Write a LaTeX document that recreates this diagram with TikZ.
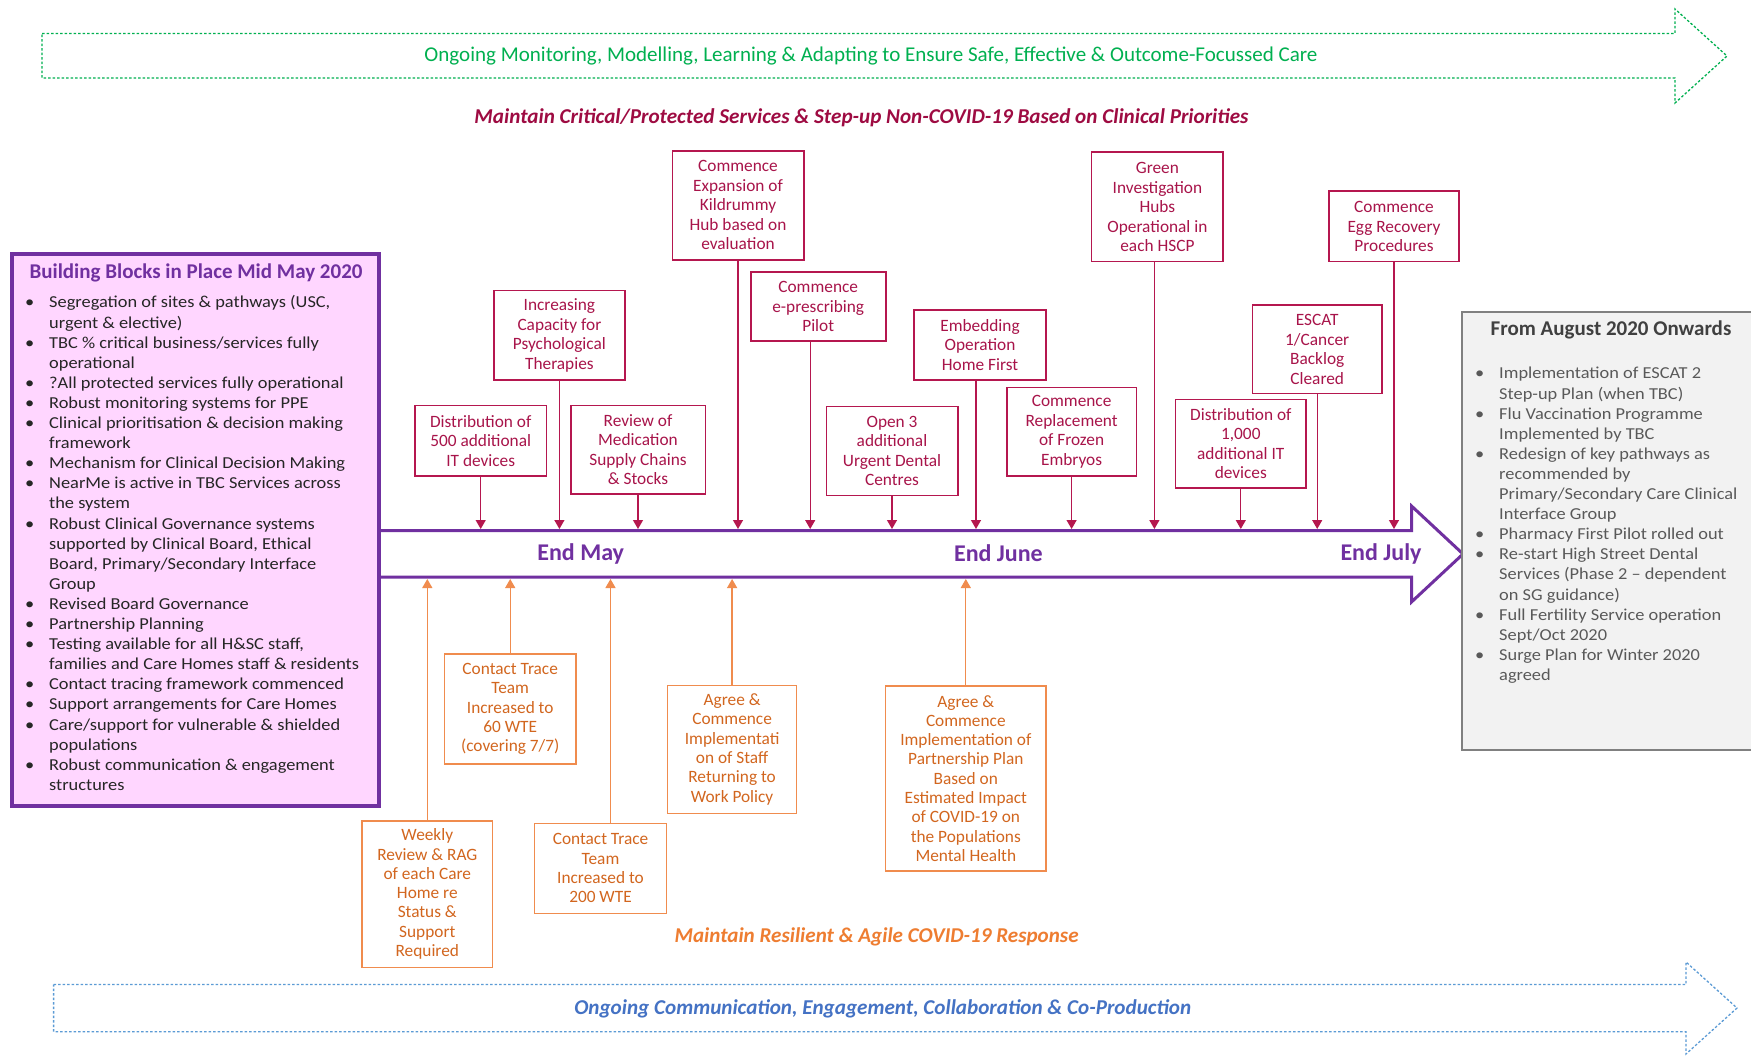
\documentclass[tikz,border=0pt]{standalone}
\usepackage{fontspec}
\setmainfont{Carlito}
\newfontfamily\widefont[FakeStretch=1.1]{Carlito}
\usepackage{graphicx}
\usetikzlibrary{arrows.meta}
\definecolor{crim}{HTML}{B5174F}
\definecolor{crimtext}{HTML}{A8144A}
\definecolor{crimhead}{HTML}{9E0B42}
\definecolor{purp}{HTML}{7030A0}
\definecolor{pinkfill}{HTML}{FFD6FF}
\definecolor{orng}{HTML}{F08C4E}
\definecolor{orngtext}{HTML}{D2661F}
\definecolor{orghead}{HTML}{EE7D31}
\definecolor{grn}{HTML}{00B050}
\definecolor{blu}{HTML}{4472C4}
\definecolor{bluline}{HTML}{5B9BD5}
\definecolor{grayfill}{HTML}{F2F2F2}
\definecolor{grayline}{HTML}{808080}
\definecolor{graytitle}{HTML}{404040}
\definecolor{graytext}{HTML}{595959}
\definecolor{darktext}{HTML}{262626}
\tikzset{
  mbox/.style={draw=crim, line width=1.6pt, text=crimtext, align=center, inner sep=0pt, font=\fontsize{17.3}{19.5}\selectfont},
  obox/.style={draw=orng, line width=1.6pt, text=orngtext, align=center, inner sep=0pt, font=\fontsize{17.3}{19.3}\selectfont},
  carrow/.style={draw=crim, line width=1.3pt, -{Triangle[width=10pt,length=9pt]}},
  oarrow/.style={draw=orng, line width=1.3pt, -{Triangle[width=10pt,length=9pt]}},
  banner/.style={line width=1.3pt, dash pattern=on 2.5pt off 2pt},
  listtext/.style={anchor=base west, inner sep=0pt, font=\widefont\fontsize{16.7}{20.1}\selectfont},
  endlabel/.style={text=purp, font=\bfseries\fontsize{24}{26}\selectfont},
}
\begin{document}
\begin{tikzpicture}[x=1pt,y=-1pt]
\useasboundingbox[fill=white] (0,0) rectangle (1751,1056);

% top banner
\draw[grn, banner] (42,33.5) -- (1675,33.5) -- (1675,9) -- (1727,56) -- (1675,103) -- (1675,78) -- (42,78) -- cycle;
\node[text=grn] (monitor) at (871,56) {\resizebox{893pt}{!}{Ongoing Monitoring, Modelling, Learning \& Adapting to Ensure Safe, Effective \& Outcome-Focussed Care}};
\node[text=crimhead, font=\bfseries\itshape] (critical) at (861.5,118) {\resizebox{774pt}{!}{Maintain Critical/Protected Services \& Step-up Non-COVID-19 Based on Clinical Priorities}};

% bottom banner
\draw[bluline, banner] (53.6,984.5) -- (1686,984.5) -- (1686,962) -- (1737,1008) -- (1686,1054) -- (1686,1031.7) -- (53.6,1031.7) -- cycle;
\node[text=blu, font=\bfseries\itshape] (comms) at (882.8,1008.5) {\resizebox{617pt}{!}{Ongoing Communication, Engagement, Collaboration \& Co-Production}};
\node[text=orghead, font=\bfseries\itshape] (resilient) at (876.6,936.5) {\resizebox{404pt}{!}{Maintain Resilient \& Agile COVID-19 Response}};

% timeline
\draw[purp, line width=3pt, fill=white, line join=miter] (379,530.5) -- (1411.5,530.5) -- (1411.5,506) -- (1463,554) -- (1411.5,602) -- (1411.5,577) -- (379,577);
\coordinate (tltop) at (379,529);
\coordinate (tlbot) at (379,579);
\node[endlabel] (endmay) at (580.7,553.5) {End May};
\node[endlabel] (endjune) at (998.4,553.5) {End June};
\node[endlabel] (endjuly) at (1381,553.5) {End July};

% left box
\node[draw=purp, fill=pinkfill, line width=3.2pt, minimum width=367pt, minimum height=552pt, inner sep=0pt] (blocks) at (195.5,530) {};
\node[text=purp, font=\bfseries\fontsize{21}{23}\selectfont] (blockstitle) at (196,273) {Building Blocks in Place Mid May 2020};
\node[listtext, text=darktext] (blockslist) at (25,308) {\begin{tabular}[t]{@{}p{24pt}@{}l@{}}
\textbullet & Segregation of sites \& pathways (USC,\\
 & urgent \& elective)\\
\textbullet & TBC \% critical business/services fully\\
 & operational\\
\textbullet & ?All protected services fully operational\\
\textbullet & Robust monitoring systems for PPE\\
\textbullet & Clinical prioritisation \& decision making\\
 & framework\\
\textbullet & Mechanism for Clinical Decision Making\\
\textbullet & NearMe is active in TBC Services across\\
 & the system\\
\textbullet & Robust Clinical Governance systems\\
 & supported by Clinical Board, Ethical\\
 & Board, Primary/Secondary Interface\\
 & Group\\
\textbullet & Revised Board Governance\\
\textbullet & Partnership Planning\\
\textbullet & Testing available for all H\&SC staff,\\
 & families and Care Homes staff \& residents\\
\textbullet & Contact tracing framework commenced\\
\textbullet & Support arrangements for Care Homes\\
\textbullet & Care/support for vulnerable \& shielded\\
 & populations\\
\textbullet & Robust communication \& engagement\\
 & structures
\end{tabular}};

% right box
\node[draw=grayline, fill=grayfill, line width=2.5pt, minimum width=293pt, minimum height=438pt, inner sep=0pt] (august) at (1608.5,531) {};
\node[text=graytitle, font=\bfseries\fontsize{21}{23}\selectfont] (augusttitle) at (1611,329.5) {From August 2020 Onwards};
\node[listtext, text=graytext] (augustlist) at (1475,379) {\begin{tabular}[t]{@{}p{24pt}@{}l@{}}
\textbullet & Implementation of ESCAT 2\\
 & Step-up Plan (when TBC)\\
\textbullet & Flu Vaccination Programme\\
 & Implemented by TBC\\
\textbullet & Redesign of key pathways as\\
 & recommended by\\
 & Primary/Secondary Care Clinical\\
 & Interface Group\\
\textbullet & Pharmacy First Pilot rolled out\\
\textbullet & Re-start High Street Dental\\
 & Services (Phase 2 – dependent\\
 & on SG guidance)\\
\textbullet & Full Fertility Service operation\\
 & Sept/Oct 2020\\
\textbullet & Surge Plan for Winter 2020\\
 & agreed
\end{tabular}};

% milestone boxes above the timeline
\node[mbox, minimum width=131.3pt, minimum height=70pt] (dist500) at (480.7,440.7) {Distribution of\\500 additional\\IT devices};
\node[mbox, minimum width=131.3pt, minimum height=89.7pt] (incr) at (559.4,335.2) {Increasing\\Capacity for\\Psychological\\Therapies};
\node[mbox, minimum width=134.6pt, minimum height=88pt] (review) at (638,449.7) {Review of\\Medication\\Supply Chains\\\& Stocks};
\node[mbox, minimum width=131.4pt, minimum height=109.3pt] (kild) at (738,205.4) {Commence\\Expansion of\\Kildrummy\\Hub based on\\evaluation};
\node[mbox, minimum width=135pt, minimum height=69pt] (epres) at (818.2,306.8) {Commence\\e-prescribing\\Pilot};
\node[mbox, minimum width=131.4pt, minimum height=88.6pt] (open3) at (892,451) {Open 3\\additional\\Urgent Dental\\Centres};
\node[mbox, minimum width=132pt, minimum height=70pt] (embed) at (980,345) {Embedding\\Operation\\Home First};
\node[mbox, minimum width=129.5pt, minimum height=88.3pt] (frozen) at (1071.6,431.8) {Commence\\Replacement\\of Frozen\\Embryos};
\node[mbox, minimum width=131.7pt, minimum height=109.4pt] (green) at (1157.4,207) {Green\\Investigation\\Hubs\\Operational in\\each HSCP};
\node[mbox, minimum width=130.4pt, minimum height=88.3pt] (dist1000) at (1240.8,443.8) {Distribution of\\1,000\\additional IT\\devices};
\node[mbox, minimum width=129.5pt, minimum height=88.7pt] (escat) at (1317.2,349.3) {ESCAT\\1/Cancer\\Backlog\\Cleared};
\node[mbox, minimum width=130pt, minimum height=70.4pt] (egg) at (1394,226.5) {Commence\\Egg Recovery\\Procedures};

\coordinate (epx) at ([xshift=-8pt]epres.south);
\coordinate (embx) at ([xshift=-4pt]embed.south);
\coordinate (grx) at ([xshift=-3pt]green.south);
\draw[carrow] (dist500.south) -- (dist500.south |- tltop);
\draw[carrow] (incr.south) -- (incr.south |- tltop);
\draw[carrow] (review.south) -- (review.south |- tltop);
\draw[carrow] (kild.south) -- (kild.south |- tltop);
\draw[carrow] (epx) -- (epx |- tltop);
\draw[carrow] (open3.south) -- (open3.south |- tltop);
\draw[carrow] (embx) -- (embx |- tltop);
\draw[carrow] (frozen.south) -- (frozen.south |- tltop);
\draw[carrow] (grx) -- (grx |- tltop);
\draw[carrow] (dist1000.south) -- (dist1000.south |- tltop);
\draw[carrow] (escat.south) -- (escat.south |- tltop);
\draw[carrow] (egg.south) -- (egg.south |- tltop);

% response boxes below the timeline
\node[obox, minimum width=130.6pt, minimum height=146.6pt] (weekly) at (427.3,894) {Weekly\\Review \& RAG\\of each Care\\Home re\\Status \&\\Support\\Required};
\node[obox, minimum width=131.6pt, minimum height=110pt] (ct60) at (510.2,709) {Contact Trace\\Team\\Increased to\\60 WTE\\(covering 7/7)};
\node[obox, minimum width=131.7pt, minimum height=90pt] (ct200) at (600.5,868.3) {Contact Trace\\Team\\Increased to\\200 WTE};
\node[obox, minimum width=129pt, minimum height=128pt] (staff) at (732.1,749.3) {Agree \&\\Commence\\Implementati\\on of Staff\\Returning to\\Work Policy};
\node[obox, minimum width=160.8pt, minimum height=185.3pt] (partner) at (965.8,778.4) {Agree \&\\Commence\\Implementation of\\Partnership Plan\\Based on\\Estimated Impact\\of COVID-19 on\\the Populations\\Mental Health};

\coordinate (ctx) at ([xshift=10pt]ct200.north);
\draw[oarrow] (weekly.north) -- (weekly.north |- tlbot);
\draw[oarrow] (ct60.north) -- (ct60.north |- tlbot);
\draw[oarrow] (ctx) -- (ctx |- tlbot);
\draw[oarrow] (staff.north) -- (staff.north |- tlbot);
\draw[oarrow] (partner.north) -- (partner.north |- tlbot);
\end{tikzpicture}
\end{document}
